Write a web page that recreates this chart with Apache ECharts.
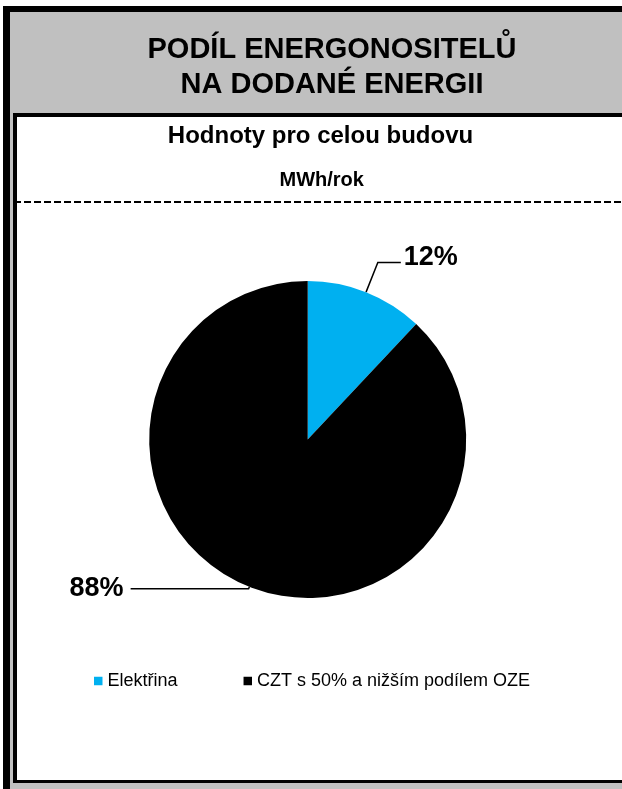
<!DOCTYPE html>
<html>
<head>
<meta charset="utf-8">
<script src="https://cdn.jsdelivr.net/npm/echarts@6/dist/echarts.min.js"></script>
<style>
html,body{margin:0;padding:0;background:#fff;}
#chart{width:622px;height:789px;}
</style>
</head>
<body>
<div id="chart"></div>
<script>
// ---- data ----
const titleLines = ['PODÍL ENERGONOSITELŮ', 'NA DODANÉ ENERGII'];
const subtitle = 'Hodnoty pro celou budovu';
const unitLabel = 'MWh/rok';
const categories = ['Elektřina', 'CZT s 50% a nižším podílem OZE'];
const shares = [12, 88];
const sliceColors = ['#00B0F0', '#000000'];

// ---- styles (per slice label leader) ----
const leaderStyles = [
  { length: 32, length2: 23, formatter: '{d}%\n{s|}', distance: 3 },
  { length: 2, length2: 118, formatter: '{d}%', distance: 7 }
];

const FONT = '"Liberation Sans", Arial, Helvetica, sans-serif';
const chart = echarts.init(document.getElementById('chart'), null, { renderer: 'canvas' });

const pieData = categories.map((name, i) => ({
  name: name,
  value: shares[i],
  itemStyle: { color: sliceColors[i] },
  label: { formatter: leaderStyles[i].formatter, distanceToLabelLine: leaderStyles[i].distance },
  labelLine: { length: leaderStyles[i].length, length2: leaderStyles[i].length2 }
}));

const option = {
  animation: false,
  backgroundColor: '#ffffff',
  graphic: {
    elements: [
      { type: 'rect', shape: { x: 3, y: 6, width: 700, height: 800 }, style: { fill: '#000' } },
      { type: 'rect', shape: { x: 10, y: 12, width: 700, height: 800 }, style: { fill: '#C0C0C0' } },
      { type: 'rect', shape: { x: 13, y: 113, width: 700, height: 670 }, style: { fill: '#000' } },
      { type: 'rect', shape: { x: 17, y: 117, width: 700, height: 663 }, style: { fill: '#fff' } },
      { type: 'line', shape: { x1: 14, y1: 202, x2: 622, y2: 202 },
        style: { stroke: '#000', lineWidth: 2, lineDash: [7, 3] } },
      { type: 'text', style: { text: titleLines[0], x: 332, y: 49.5, align: 'center', verticalAlign: 'middle',
          font: 'bold 29px ' + FONT, fill: '#000' } },
      { type: 'text', style: { text: titleLines[1], x: 332, y: 85, align: 'center', verticalAlign: 'middle',
          font: 'bold 29px ' + FONT, fill: '#000' } },
      { type: 'text', style: { text: subtitle, x: 320.5, y: 136.7, align: 'center', verticalAlign: 'middle',
          font: 'bold 24px ' + FONT, fill: '#000' } },
      { type: 'text', style: { text: unitLabel, x: 321.7, y: 180.8, align: 'center', verticalAlign: 'middle',
          font: 'bold 20px ' + FONT, fill: '#000' } }
    ]
  },
  legend: {
    data: categories,
    left: 94,
    top: 671,
    orient: 'horizontal',
    icon: 'rect',
    itemWidth: 8.5,
    itemHeight: 8.5,
    itemGap: 66,
    padding: 0,
    textStyle: { fontFamily: FONT, fontSize: 18, color: '#000', lineHeight: 20 }
  },
  series: [{
    type: 'pie',
    center: [307.7, 439.5],
    radius: [0, 158.5],
    startAngle: 90,
    clockwise: true,
    percentPrecision: 0,
    avoidLabelOverlap: false,
    padAngle: 0,
    itemStyle: { borderWidth: 0, borderRadius: 0 },
    emphasis: { disabled: true },
    label: {
      show: true,
      position: 'outside',
      formatter: '{d}%',
      fontFamily: FONT,
      fontSize: 27,
      lineHeight: 30,
      fontWeight: 'bold',
      color: '#000',
      rich: { s: { fontSize: 1, lineHeight: 9 } }
    },
    labelLine: {
      show: true,
      smooth: false,
      lineStyle: { color: '#000', width: 1.5 }
    },
    data: pieData
  }]
};
chart.setOption(option);
</script>
</body>
</html>
